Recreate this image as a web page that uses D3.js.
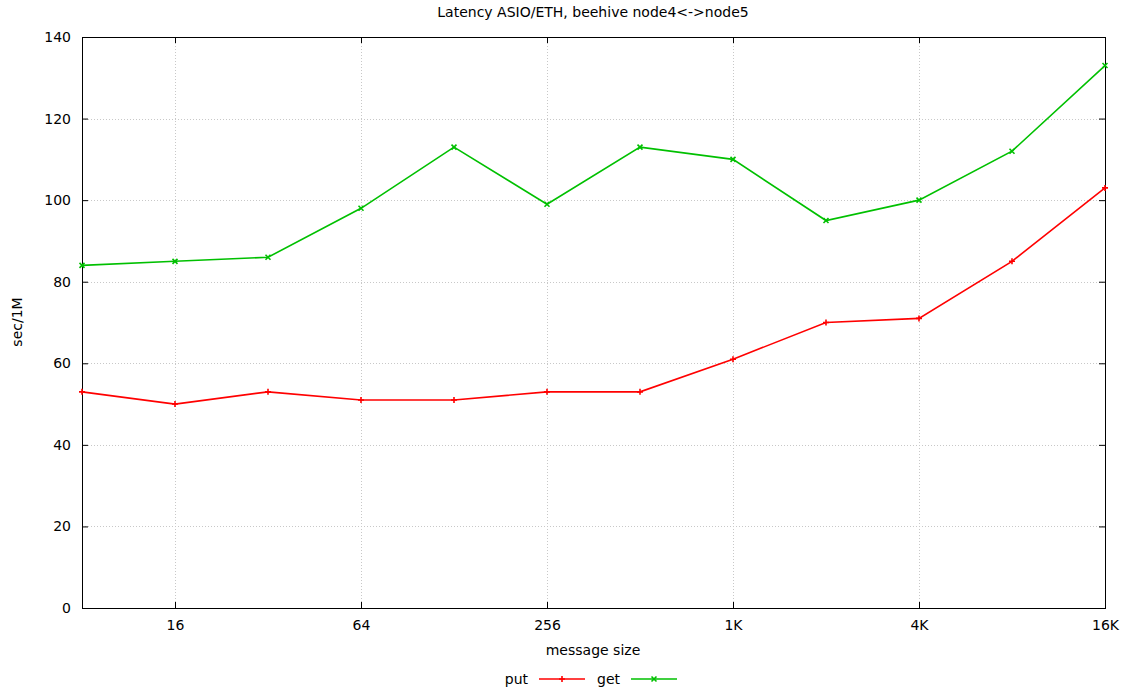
<!DOCTYPE html>
<html>
<head>
<meta charset="utf-8">
<script src="https://cdn.jsdelivr.net/npm/d3@7"></script>
<style>
  html, body { margin: 0; padding: 0; background: #fff; }
  svg { display: block; font-family: "DejaVu Sans", sans-serif; }
</style>
</head>
<body>
<svg id="chart" width="1122" height="688"></svg>
<script>
// Message sizes (bytes), log2 spaced
const sizes = [8, 16, 32, 64, 128, 256, 512, 1024, 2048, 4096, 8192, 16384];
// Latency in seconds per 1M messages
const putValues = [53, 50, 53, 51, 51, 53, 53, 61, 70, 71, 85, 103];
const getValues = [84, 85, 86, 98, 113, 99, 113, 110, 95, 100, 112, 133];
const xTickValues = [16, 64, 256, 1024, 4096, 16384];
const xTickLabels = ["16", "64", "256", "1K", "4K", "16K"];
const yTickValues = [0, 20, 40, 60, 80, 100, 120, 140];

const svg = d3.select("#chart");
const m = { left: 82, right: 1105, top: 37, bottom: 608 };
const FS = 14;

const x = d3.scaleLog().base(2).domain([8, 16384]).range([m.left, m.right]);
const y = d3.scaleLinear().domain([0, 140]).range([m.bottom, m.top]);

// dotted grid
const grid = svg.append("g").attr("stroke", "#c8c8c8").attr("stroke-width", 1)
  .attr("stroke-dasharray", "1,2");
yTickValues.filter(v => v > 0 && v < 140).forEach(v => {
  grid.append("line").attr("x1", m.left).attr("x2", m.right)
    .attr("y1", Math.round(y(v)) + 0.5).attr("y2", Math.round(y(v)) + 0.5);
});
xTickValues.filter(v => v < 16384).forEach(v => {
  grid.append("line").attr("y1", m.top).attr("y2", m.bottom)
    .attr("x1", Math.round(x(v)) + 0.5).attr("x2", Math.round(x(v)) + 0.5);
});

// axes with inward, mirrored ticks
const fmt = d => xTickLabels[xTickValues.indexOf(d)];
const xAxis = svg.append("g").attr("transform", `translate(0,${m.bottom})`)
  .call(d3.axisBottom(x).tickValues(xTickValues).tickFormat(fmt).tickSize(-6).tickPadding(12));
const xAxisTop = svg.append("g").attr("transform", `translate(0,${m.top})`)
  .call(d3.axisTop(x).tickValues(xTickValues).tickFormat("").tickSize(-6));
const yAxis = svg.append("g").attr("transform", `translate(${m.left},0)`)
  .call(d3.axisLeft(y).tickValues(yTickValues).tickSize(-6).tickPadding(11));
const yAxisRight = svg.append("g").attr("transform", `translate(${m.right},0)`)
  .call(d3.axisRight(y).tickValues(yTickValues).tickFormat("").tickSize(-6));
[xAxis, xAxisTop, yAxis, yAxisRight].forEach(g => {
  g.select(".domain").remove();
  g.selectAll("line").attr("stroke", "#000");
  g.selectAll("text").attr("font-size", FS).attr("fill", "#000")
    .attr("font-family", "DejaVu Sans, sans-serif");
});

// frame
svg.append("rect").attr("x", m.left + 0.5).attr("y", m.top + 0.5)
  .attr("width", m.right - m.left).attr("height", m.bottom - m.top)
  .attr("fill", "none").attr("stroke", "#000");

// title and axis labels
svg.append("text").attr("x", 593).attr("y", 17).attr("text-anchor", "middle")
  .attr("font-size", FS).text("Latency ASIO/ETH, beehive node4<->node5");
svg.append("text").attr("x", 593).attr("y", 655).attr("text-anchor", "middle")
  .attr("font-size", FS).text("message size");
svg.append("text").attr("transform", "translate(22,322) rotate(-90)")
  .attr("text-anchor", "middle").attr("font-size", FS).text("sec/1M");

// series
const series = [
  { name: "put", values: putValues, color: "#ff0000", marker: "plus" },
  { name: "get", values: getValues, color: "#00c000", marker: "cross" }
];
const line = d3.line().x(d => x(d[0])).y(d => y(d[1]));

function drawMarker(g, cx, cy, type, color) {
  const s = type === "plus" ? 3 : 2.5;
  const p = type === "plus"
    ? `M${cx - s},${cy}H${cx + s}M${cx},${cy - s}V${cy + s}`
    : `M${cx - s},${cy - s}L${cx + s},${cy + s}M${cx - s},${cy + s}L${cx + s},${cy - s}`;
  g.append("path").attr("d", p).attr("stroke", color).attr("stroke-width", 1.6).attr("fill", "none");
}

series.forEach(s => {
  const pts = sizes.map((v, i) => [v, s.values[i]]);
  const g = svg.append("g");
  g.append("path").datum(pts).attr("d", line).attr("fill", "none")
    .attr("stroke", s.color).attr("stroke-width", 1.6);
  pts.forEach(p => drawMarker(g, x(p[0]), y(p[1]), s.marker, s.color));
});

// legend
const legend = [
  { name: "put", color: "#ff0000", marker: "plus", tx: 528, lx1: 539, lx2: 585 },
  { name: "get", color: "#00c000", marker: "cross", tx: 620, lx1: 631, lx2: 677 }
];
legend.forEach(l => {
  const g = svg.append("g");
  g.append("text").attr("x", l.tx).attr("y", 684).attr("text-anchor", "end")
    .attr("font-size", FS).text(l.name);
  g.append("line").attr("x1", l.lx1).attr("x2", l.lx2).attr("y1", 679).attr("y2", 679)
    .attr("stroke", l.color).attr("stroke-width", 1.6);
  drawMarker(g, (l.lx1 + l.lx2) / 2, 679, l.marker, l.color);
});
</script>
</body>
</html>
